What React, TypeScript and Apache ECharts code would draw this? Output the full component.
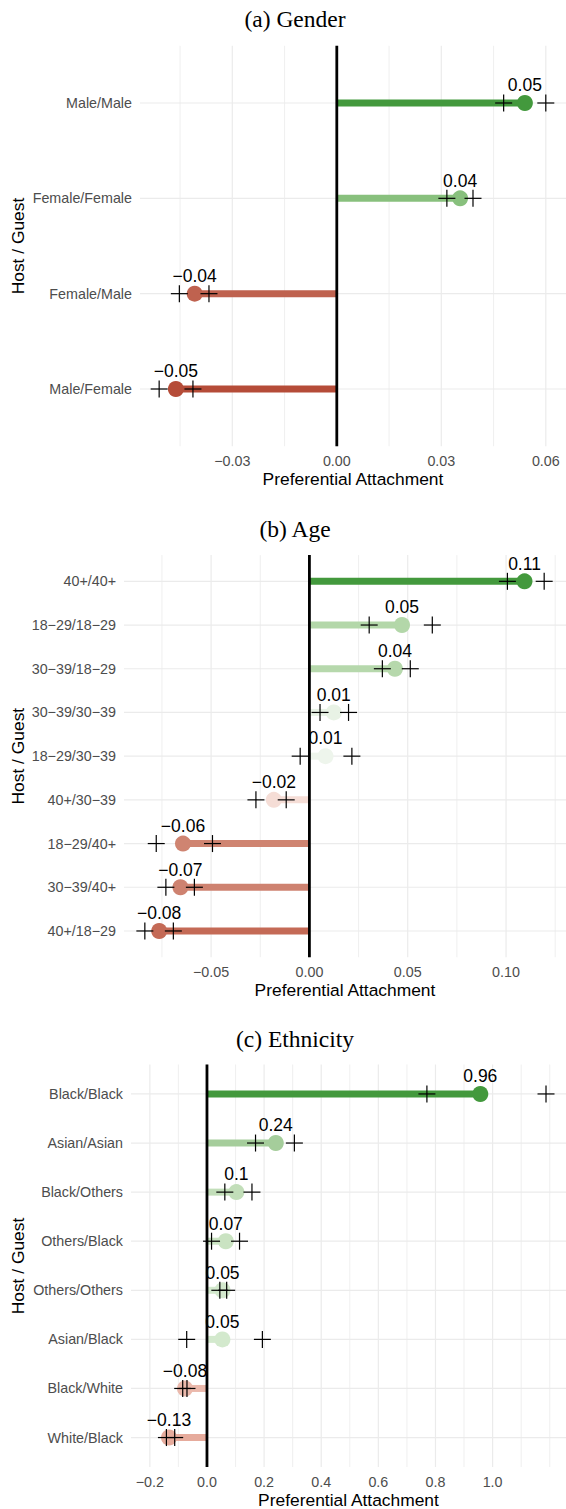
import React, { useEffect, useRef } from "react";
import * as echarts from "echarts";

// ---------------- data ----------------
const genderCategories = ["Male/Male", "Female/Female", "Female/Male", "Male/Female"];
const genderValues = [0.054, 0.0354, -0.0408, -0.0462];
const genderLower = [0.0479, 0.0316, -0.0452, -0.051];
const genderUpper = [0.06, 0.0391, -0.0367, -0.0413];
const genderColors = ["#43993D", "#88C07D", "#BF624F", "#B54C38"];
const genderTickLabels = [-0.03, 0, 0.03, 0.06];
const genderGridTicks = [-0.045, -0.03, -0.015, 0, 0.015, 0.03, 0.045, 0.06];

const ageCategories = [
  "40+/40+",
  "18\u221229/18\u221229",
  "30\u221239/18\u221229",
  "30\u221239/30\u221239",
  "18\u221229/30\u221239",
  "40+/30\u221239",
  "18\u221229/40+",
  "30\u221239/40+",
  "40+/18\u221229",
];
const ageValues = [0.1094, 0.0471, 0.0435, 0.0124, 0.0082, -0.0181, -0.0643, -0.0656, -0.0764];
const ageLower = [0.1007, 0.0304, 0.0371, 0.0054, -0.0047, -0.0272, -0.0779, -0.073, -0.0837];
const ageUpper = [0.1194, 0.0625, 0.0513, 0.0199, 0.0216, -0.0118, -0.0493, -0.0585, -0.0692];
const ageColors = ["#43993D", "#B3D7A9", "#B6D8AC", "#E8F2E5", "#EEF5EC", "#F5DDD6", "#CF8471", "#CE8270", "#C46A56"];
const ageTickLabels = [-0.05, 0, 0.05, 0.1];
const ageGridTicks = [-0.075, -0.05, -0.025, 0, 0.025, 0.05, 0.075, 0.1, 0.125];

const ethnicityCategories = [
  "Black/Black",
  "Asian/Asian",
  "Black/Others",
  "Others/Black",
  "Others/Others",
  "Asian/Black",
  "Black/White",
  "White/Black",
];
const ethnicityValues = [0.957, 0.241, 0.103, 0.066, 0.0546, 0.054, -0.077, -0.133];
const ethnicityLower = [0.77, 0.17, 0.0625, 0.016, 0.045, -0.071, -0.085, -0.142];
const ethnicityUpper = [1.187, 0.306, 0.1575, 0.114, 0.069, 0.194, -0.07, -0.113];
const ethnicityColors = ["#43993D", "#A5CD9B", "#C2DEB9", "#CAE3C2", "#D3E9CD", "#D3E9CD", "#EBB9AC", "#E6AB9C"];
const ethnicityTickLabels = [-0.2, 0, 0.2, 0.4, 0.6, 0.8, 1.0];
const ethnicityGridTicks = [-0.2, -0.1, 0, 0.1, 0.2, 0.3, 0.4, 0.5, 0.6, 0.7, 0.8, 0.9, 1.0, 1.1, 1.2];

// ---------------- layout / style ----------------
const SANS = "Liberation Sans, Arial, Helvetica, sans-serif";
const SERIF = "Liberation Serif, Times New Roman, serif";
const GRID_COLOR = "#EBEBEB";
const PANEL_RIGHT = 572;

type Panel = {
  title: string;
  titleY: number;
  cats: string[];
  values: number[];
  lower: number[];
  upper: number[];
  colors: string[];
  tickLabels: number[];
  gridTicks: number[];
  decimals: number;
  left: number;
  top: number;
  height: number;
  xMin: number;
  xMax: number;
};

const panels: Panel[] = [
  {
    title: "(a) Gender",
    titleY: 19,
    cats: genderCategories,
    values: genderValues,
    lower: genderLower,
    upper: genderUpper,
    colors: genderColors,
    tickLabels: genderTickLabels,
    gridTicks: genderGridTicks,
    decimals: 2,
    left: 140,
    top: 45.8,
    height: 400.4,
    xMin: -0.0565,
    xMax: 0.0658,
  },
  {
    title: "(b) Age",
    titleY: 529,
    cats: ageCategories,
    values: ageValues,
    lower: ageLower,
    upper: ageUpper,
    colors: ageColors,
    tickLabels: ageTickLabels,
    gridTicks: ageGridTicks,
    decimals: 2,
    left: 124,
    top: 555.1,
    height: 402.1,
    xMin: -0.0943,
    xMax: 0.1305,
  },
  {
    title: "(c) Ethnicity",
    titleY: 1039,
    cats: ethnicityCategories,
    values: ethnicityValues,
    lower: ethnicityLower,
    upper: ethnicityUpper,
    colors: ethnicityColors,
    tickLabels: ethnicityTickLabels,
    gridTicks: ethnicityGridTicks,
    decimals: 1,
    left: 131,
    top: 1064.5,
    height: 403,
    xMin: -0.266,
    xMax: 1.257,
  },
];

const fmtTick = (v: number, d: number) => (v < -1e-9 ? "\u2212" : "") + Math.abs(v).toFixed(d);
const fmtValue = (v: number) => {
  const r = Math.round(Math.abs(v) * 100) / 100;
  return (v < 0 ? "\u2212" : "") + String(r);
};

function buildOption() {
  const grid: any[] = [];
  const xAxis: any[] = [];
  const yAxis: any[] = [];
  const series: any[] = [];
  const graphic: any[] = [];

  panels.forEach((p, k) => {
    const n = p.cats.length;
    grid.push({ left: p.left, top: p.top, width: PANEL_RIGHT - p.left, height: p.height, containLabel: false });
    xAxis.push({
      gridIndex: k,
      type: "value",
      min: p.xMin,
      max: p.xMax,
      axisLine: { show: false },
      axisTick: { show: false },
      splitLine: { show: false },
      axisLabel: {
        customValues: p.tickLabels,
        formatter: (v: number) => fmtTick(v, p.decimals),
        color: "#4D4D4D",
        fontSize: 14.3,
        fontFamily: SANS,
        margin: 8,
      },
      name: "Preferential Attachment",
      nameLocation: "middle",
      nameGap: 24,
      nameTextStyle: { color: "#000", fontSize: 17.4, fontFamily: SANS },
    });
    yAxis.push({
      gridIndex: k,
      type: "value",
      min: 0.4,
      max: n + 0.6,
      inverse: true,
      axisLine: { show: false },
      axisTick: { show: false },
      splitLine: { show: false },
      axisLabel: {
        customValues: p.cats.map((_, i) => i + 1),
        formatter: (v: number) => p.cats[Math.round(v) - 1] ?? "",
        color: "#4D4D4D",
        fontSize: 14.3,
        fontFamily: SANS,
        margin: 8,
      },
    });

    const axisRef = { xAxisIndex: k, yAxisIndex: k };

    // horizontal grid lines at categories
    series.push({
      type: "custom",
      ...axisRef,
      z: 1,
      silent: true,
      data: p.cats.map((_, i) => [0, i + 1]),
      renderItem: (params: any, api: any) => {
        const cs = params.coordSys;
        const pt = api.coord([api.value(0), api.value(1)]);
        return {
          type: "line",
          shape: { x1: cs.x, y1: pt[1], x2: cs.x + cs.width, y2: pt[1] },
          style: { stroke: GRID_COLOR, lineWidth: 1.2 },
        };
      },
    });
    // vertical grid lines (major + minor)
    series.push({
      type: "custom",
      ...axisRef,
      z: 1,
      silent: true,
      data: p.gridTicks.map((v) => [v, 1, p.tickLabels.some((t) => Math.abs(t - v) < 1e-9) ? 1 : 0]),
      renderItem: (params: any, api: any) => {
        const cs = params.coordSys;
        const pt = api.coord([api.value(0), api.value(1)]);
        return {
          type: "line",
          shape: { x1: pt[0], y1: cs.y, x2: pt[0], y2: cs.y + cs.height },
          style: { stroke: GRID_COLOR, lineWidth: api.value(2) ? 1.2 : 0.8 },
        };
      },
    });
    // segments
    series.push({
      type: "custom",
      ...axisRef,
      z: 2,
      silent: true,
      data: p.values.map((v, i) => [v, i + 1, i]),
      renderItem: (params: any, api: any) => {
        const y = api.value(1);
        const a = api.coord([0, y]);
        const b = api.coord([api.value(0), y]);
        return {
          type: "line",
          shape: { x1: a[0], y1: a[1], x2: b[0], y2: b[1] },
          style: { stroke: p.colors[api.value(2)], lineWidth: 7 },
        };
      },
    });
    // zero line
    series.push({
      type: "custom",
      ...axisRef,
      z: 3,
      silent: true,
      data: [[0, 1]],
      renderItem: (params: any, api: any) => {
        const cs = params.coordSys;
        const pt = api.coord([0, 1]);
        return {
          type: "line",
          shape: { x1: pt[0], y1: cs.y, x2: pt[0], y2: cs.y + cs.height },
          style: { stroke: "#000", lineWidth: 2.8 },
        };
      },
    });
    // dots
    series.push({
      type: "scatter",
      ...axisRef,
      z: 4,
      silent: true,
      symbol: "circle",
      symbolSize: 16,
      data: p.values.map((v, i) => ({ value: [v, i + 1], itemStyle: { color: p.colors[i], opacity: 1 } })),
    });
    // crosses (interval ends)
    const crossData: number[][] = [];
    p.lower.forEach((v, i) => crossData.push([v, i + 1]));
    p.upper.forEach((v, i) => crossData.push([v, i + 1]));
    series.push({
      type: "custom",
      ...axisRef,
      z: 5,
      silent: true,
      data: crossData,
      renderItem: (params: any, api: any) => {
        const pt = api.coord([api.value(0), api.value(1)]);
        const h = 8.5;
        return {
          type: "group",
          children: [
            {
              type: "line",
              shape: { x1: pt[0] - h, y1: pt[1], x2: pt[0] + h, y2: pt[1] },
              style: { stroke: "#000", lineWidth: 1.2 },
            },
            {
              type: "line",
              shape: { x1: pt[0], y1: pt[1] - h, x2: pt[0], y2: pt[1] + h },
              style: { stroke: "#000", lineWidth: 1.2 },
            },
          ],
        };
      },
    });
    // value labels
    series.push({
      type: "custom",
      ...axisRef,
      z: 6,
      silent: true,
      data: p.values.map((v, i) => [v, i + 1]),
      renderItem: (params: any, api: any) => {
        const v = api.value(0);
        const pt = api.coord([v, api.value(1)]);
        return {
          type: "text",
          x: pt[0],
          y: pt[1] - 17.7,
          style: {
            text: fmtValue(v),
            fill: "#000",
            fontSize: 17.5,
            fontFamily: SANS,
            align: "center",
            verticalAlign: "middle",
          },
        };
      },
    });

    graphic.push({
      type: "text",
      x: 295,
      y: p.titleY,
      style: {
        text: p.title,
        fill: "#000",
        fontSize: 23.5,
        fontFamily: SERIF,
        align: "center",
        verticalAlign: "middle",
      },
    });
    graphic.push({
      type: "text",
      x: 18,
      y: p.top + p.height / 2,
      rotation: Math.PI / 2,
      style: {
        text: "Host / Guest",
        fill: "#000",
        fontSize: 17.4,
        fontFamily: SANS,
        align: "center",
        verticalAlign: "middle",
      },
    });
  });

  return {
    animation: false,
    backgroundColor: "#FFFFFF",
    grid,
    xAxis,
    yAxis,
    series,
    graphic,
  };
}

export default function App() {
  const ref = useRef<HTMLDivElement>(null);
  useEffect(() => {
    if (!ref.current) return;
    const chart = echarts.init(ref.current, undefined, { renderer: "svg" });
    chart.setOption(buildOption() as any);
    return () => chart.dispose();
  }, []);
  return (
    <div
      ref={ref}
      style={{ position: "absolute", left: 0, top: 0, width: 566, height: 1509, background: "#fff" }}
    />
  );
}
